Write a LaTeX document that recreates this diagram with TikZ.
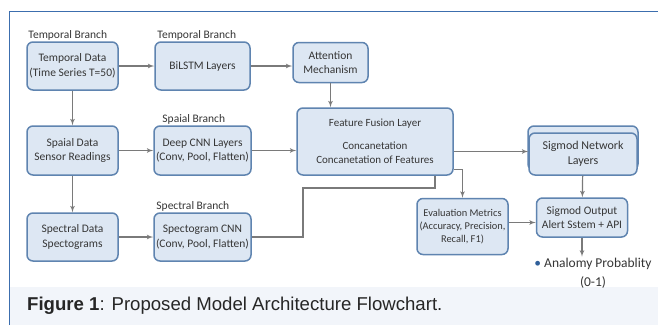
\documentclass[tikz,border=0pt]{standalone}
\usepackage{fontspec}
\setmainfont{Carlito}
\newfontfamily\capfont{Liberation Sans}
\usepackage{tikz}
\usetikzlibrary{arrows, calc}
\definecolor{boxfill}{HTML}{DDE7F3}
\definecolor{boxedge}{HTML}{5F84B0}
\definecolor{textgray}{HTML}{363636}
\definecolor{linegray}{HTML}{7A7A7A}
\definecolor{frameblue}{HTML}{3C6EAE}
\definecolor{dotblue}{HTML}{2F5F9A}
\definecolor{capband}{HTML}{F2F5FA}
\tikzstyle{block} = [rectangle, draw=boxedge, fill=boxfill, line width=1.5pt,
    rounded corners=6pt, text=textgray, align=center, inner sep=2pt,
    font=\fontsize{11.5}{14.5}\selectfont]
\tikzstyle{branch} = [anchor=south west, inner sep=1pt, text=textgray,
    font=\fontsize{11.5}{13}\selectfont]
\tikzstyle{line} = [draw=linegray, line width=1.2pt, -latex']
\tikzstyle{plain} = [draw=linegray, line width=1.2pt]

\begin{document}
\begin{tikzpicture}[x=1pt, y=-1pt]
            \useasboundingbox (0,0) rectangle (658,325);
            % Background and frame
            \fill [white] (9,11) rectangle (658,325);
            \fill [capband] (10,287) rectangle (658,325);
            \draw [frameblue, line width=1pt] (9,325) -- (9,11) -- (658,11);

            % Place nodes
            \node [block, minimum width=91pt, minimum height=48pt] (tdata) at (72.5,66) {Temporal Data\\(Time Series T=50)};
            \node [block, minimum width=95pt, minimum height=48pt] (bilstm) at (202.5,66) {BiLSTM Layers};
            \node [block, minimum width=75pt, minimum height=40pt] (attn) at (330.5,62.5) {Attention\\Mechanism};

            \node [block, minimum width=91pt, minimum height=49pt] (sdata) at (72.5,150.5) {Spaial Data\\Sensor Readings};
            \node [block, minimum width=95pt, minimum height=49pt] (dcnn) at (202.5,150.5) {Deep CNN Layers\\(Conv, Pool, Flatten)};
            \node [block, minimum width=156pt, minimum height=67pt, font=\fontsize{11}{14}\selectfont] (fusion) at (375,141.5) {Feature Fusion Layer\\[9pt]Concanetation\\Concanetation of Features};

            \node [block, minimum width=110pt, minimum height=44pt] (signetback) at (583,148) {};
            \node [block, minimum width=108pt, minimum height=42pt, font=\fontsize{12}{15}\selectfont] (signet) at (583,154) {Sigmod Network\\Layers};

            \node [block, minimum width=91pt, minimum height=48pt] (spdata) at (72.5,237) {Spectral Data\\Spectograms};
            \node [block, minimum width=95pt, minimum height=48pt] (scnn) at (202.5,237) {Spectogram CNN\\(Conv, Pool, Flatten)};

            \node [block, minimum width=91pt, minimum height=56pt, font=\fontsize{10.4}{13}\selectfont] (eval) at (462.5,226.5) {Evaluation Metrics\\(Accuracy, Precision,\\Recall, F1)};
            \node [block, minimum width=91pt, minimum height=39pt] (sigout) at (582,217.5) {Sigmod Output\\Alert Sstem + API};
            \node [text=textgray, align=center, inner sep=1pt, font=\fontsize{13.5}{19}\selectfont] (anomaly) at (593,273) {{\color{dotblue}\textbullet}\ Analomy Probablity\\(0-1)};

            % Branch labels
            \node [branch] (tlabel1) at ([xshift=1pt]tdata.north west) {Temporal Branch};
            \node [branch] (tlabel2) at ([xshift=2pt]bilstm.north west) {Temporal Branch};
            \node [branch] (slabel) at ([xshift=8pt]dcnn.north west) {Spaial Branch};
            \node [branch] (splabel) at ([xshift=2pt]scnn.north west) {Spectral Branch};

            % Caption
            \node [anchor=west, inner sep=0pt, text=black!85, font=\capfont\fontsize{18.6}{20}\selectfont] (caption) at (27,306) {\textbf{Figure 1}: Proposed Model Architecture Flowchart.};

            % Draw edges
            \path [line] (tdata) -- (bilstm);
            \path [line] (bilstm) -- (bilstm -| attn.west);
            \path [line] (attn.south) -- (attn.south |- fusion.north);

            \path [line] (tdata) -- (sdata);
            \path [line] (sdata) -- (dcnn);
            \path [line] (dcnn.east) -- (dcnn.east -| fusion.west);

            \path [line] (sdata) -- (spdata);
            \path [line] (spdata) -- (scnn);
            \coordinate (mergeA) at (303,188);
            \coordinate (mergeB) at (435,188);
            \path [plain] (scnn.east) -| (mergeA) -- (mergeB) -- (mergeB |- fusion.south);

            \path [line] ([yshift=-10pt]fusion.east) -- ([yshift=-10pt]fusion.east -| signet.west);
            \path [line] ([yshift=-28pt]fusion.east) -| (eval.north);
            \path [line] (signet) -- (sigout);
            \path [line] ([yshift=4pt]eval.east) -- ([yshift=4pt]eval.east -| sigout.west);
            \path [line] (sigout.south) -- (sigout.south |- anomaly.north);

        \end{tikzpicture}
\end{document}
